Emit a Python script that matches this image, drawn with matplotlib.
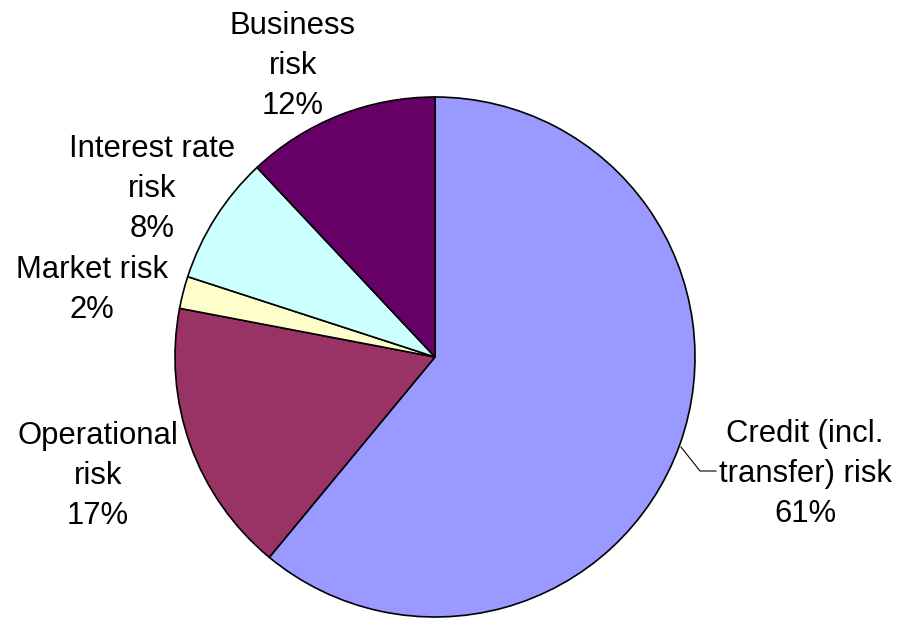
import matplotlib.pyplot as plt

labels = ["Credit (incl.\ntransfer) risk", "Operational\nrisk", "Market risk",
          "Interest rate\nrisk", "Business\nrisk"]
shares = [61, 17, 2, 8, 12]
colors = ["#9999FF", "#993366", "#FFFFCC", "#CCFFFF", "#660066"]

# label centres in pixel space (y up)
label_pos = [(805, 146), (98, 144), (92, 330), (152, 431), (293, 554)]

W, H = 897, 620
fig = plt.figure(figsize=(W / 100, H / 100), dpi=100)
ax = fig.add_axes([0, 0, 1, 1])
ax.set_xlim(0, W)
ax.set_ylim(0, H)
ax.axis("off")

ax.pie(shares, colors=colors, startangle=90, counterclock=False,
       center=(435, H - 357), radius=260,
       wedgeprops=dict(edgecolor="black", linewidth=1.2))
ax.set_xlim(0, W)
ax.set_ylim(0, H)
ax.set_aspect("auto")

for lab, v, (x, y) in zip(labels, shares, label_pos):
    ax.text(x, y, f"{lab}\n{v}%", ha="center", va="center",
            fontsize=22.3, family="Liberation Sans", linespacing=1.42)

# leader line for the credit label
ax.plot([681, 700, 716], [H - 447, H - 471, H - 471], color="black", lw=0.8)

fig.savefig("out.png", dpi=100)
